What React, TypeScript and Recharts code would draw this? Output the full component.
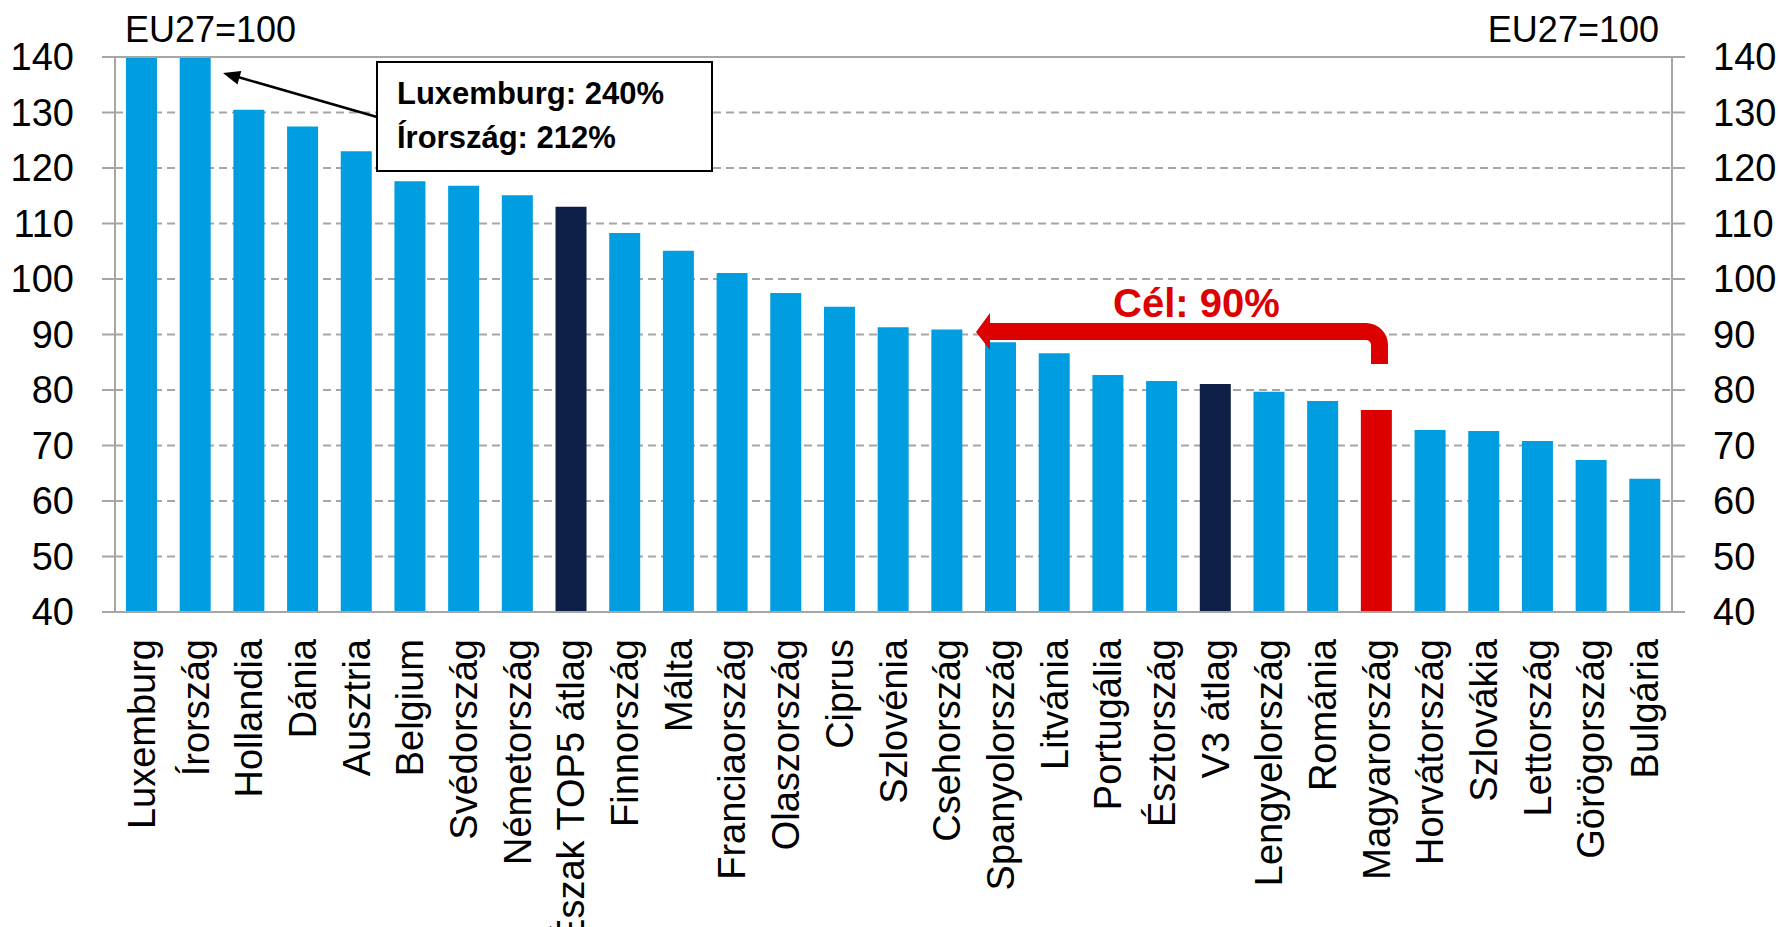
import React from "react";
import {
  BarChart,
  Bar,
  Cell,
  XAxis,
  YAxis,
  CartesianGrid,
  ReferenceLine,
} from "recharts";

// GDP per capita, PPS, EU27 = 100
const countries = [
  "Luxemburg", "Írország", "Hollandia", "Dánia", "Ausztria", "Belgium",
  "Svédország", "Németország", "Észak TOP5 átlag", "Finnország", "Málta",
  "Franciaország", "Olaszország", "Ciprus", "Szlovénia", "Csehország",
  "Spanyolország", "Litvánia", "Portugália", "Észtország", "V3 átlag",
  "Lengyelország", "Románia", "Magyarország", "Horvátország", "Szlovákia",
  "Lettország", "Görögország", "Bulgária",
];
const values = [
  240, 212, 130.5, 127.5, 123.0, 117.6, 116.8, 115.1, 113.0, 108.3, 105.1,
  101.1, 97.5, 95.0, 91.3, 90.9, 88.6, 86.6, 82.7, 81.6, 81.1, 79.7, 78.0,
  76.4, 72.8, 72.6, 70.8, 67.4, 64.0,
];
const highlightAvg = ["Észak TOP5 átlag", "V3 átlag"];
const highlightHu = "Magyarország";
const yTicks = [40, 50, 60, 70, 80, 90, 100, 110, 120, 130, 140];

const BLUE = "#009EE0";
const NAVY = "#0E1F47";
const RED = "#DD0000";
const GRAY = "#A6A6A6";
const FONT = "'Liberation Sans', Arial, sans-serif";

const data = countries.map((name, i) => ({ name, value: values[i] }));

function barColor(name: string) {
  if (name === highlightHu) return RED;
  if (highlightAvg.includes(name)) return NAVY;
  return BLUE;
}

const CategoryTick = ({ x, y, payload }: any) => (
  <text
    x={x}
    y={y + 27}
    dy={13}
    transform={`rotate(-90, ${x}, ${y + 27})`}
    textAnchor="end"
    fontSize={38}
    fontFamily={FONT}
    fill="#000"
  >
    {payload.value}
  </text>
);

export default function App() {
  const tickStyle = { fontSize: 38, fontFamily: FONT, fill: "#000" };
  return (
    <div style={{ position: "absolute", left: 0, top: 0, width: 1779, height: 927, background: "#fff" }}>
      <BarChart
        width={1779}
        height={927}
        data={data}
        margin={{ top: 57, right: 0, bottom: 0, left: 0 }}
        barSize={31}
      >
        <CartesianGrid
          vertical={false}
          stroke={GRAY}
          strokeWidth={2}
          strokeDasharray="8 5"
        />
        <XAxis
          dataKey="name"
          interval={0}
          height={315}
          tickSize={0}
          tickMargin={0}
          tickLine={false}
          axisLine={{ stroke: GRAY, strokeWidth: 2 }}
          tick={<CategoryTick />}
        />
        <YAxis
          domain={[40, 140]}
          ticks={yTicks}
          allowDataOverflow
          width={115}
          tickSize={13}
          tickMargin={28}
          axisLine={{ stroke: GRAY, strokeWidth: 2 }}
          tickLine={{ stroke: GRAY, strokeWidth: 2 }}
          tick={tickStyle}
        />
        <YAxis
          yAxisId="right"
          orientation="right"
          domain={[40, 140]}
          ticks={yTicks}
          allowDataOverflow
          width={107}
          tickSize={13}
          tickMargin={28}
          axisLine={{ stroke: GRAY, strokeWidth: 2 }}
          tickLine={{ stroke: GRAY, strokeWidth: 2 }}
          tick={{ ...tickStyle, textAnchor: "start" }}
        />
        <ReferenceLine y={140} stroke={GRAY} strokeWidth={2} />
        <Bar dataKey="value" isAnimationActive={false}>
          {data.map((d) => (
            <Cell key={d.name} fill={barColor(d.name)} />
          ))}
        </Bar>
      </BarChart>

      {/* annotations */}
      <svg
        width={1779}
        height={927}
        style={{ position: "absolute", left: 0, top: 0, pointerEvents: "none" }}
      >
        <text x={125} y={42} fontSize={36} fontFamily={FONT} fill="#000">EU27=100</text>
        <text x={1659} y={42} fontSize={36} fontFamily={FONT} fill="#000" textAnchor="end">EU27=100</text>

        <line x1={377} y1={117} x2={238} y2={77} stroke="#000" strokeWidth={2.5} />
        <polygon points="223,73 241.3,71 237.5,84.4" fill="#000" />
        <rect x={377} y={62} width={335} height={109} fill="#fff" stroke="#000" strokeWidth={2} />
        <text x={397} y={104} fontSize={31} fontWeight="bold" fontFamily={FONT} fill="#000">Luxemburg: 240%</text>
        <text x={397} y={148} fontSize={31} fontWeight="bold" fontFamily={FONT} fill="#000">Írország: 212%</text>

        <path
          d="M 976 332 L 990 313 L 990 323 L 1366 323 A 22 22 0 0 1 1388 345 L 1388 364 L 1371 364 L 1371 345 A 5 5 0 0 0 1366 340 L 990 340 L 990 350 Z"
          fill={RED}
        />
        <text x={1113} y={317} fontSize={40} fontWeight="bold" fontFamily={FONT} fill={RED}>Cél: 90%</text>
      </svg>
    </div>
  );
}
